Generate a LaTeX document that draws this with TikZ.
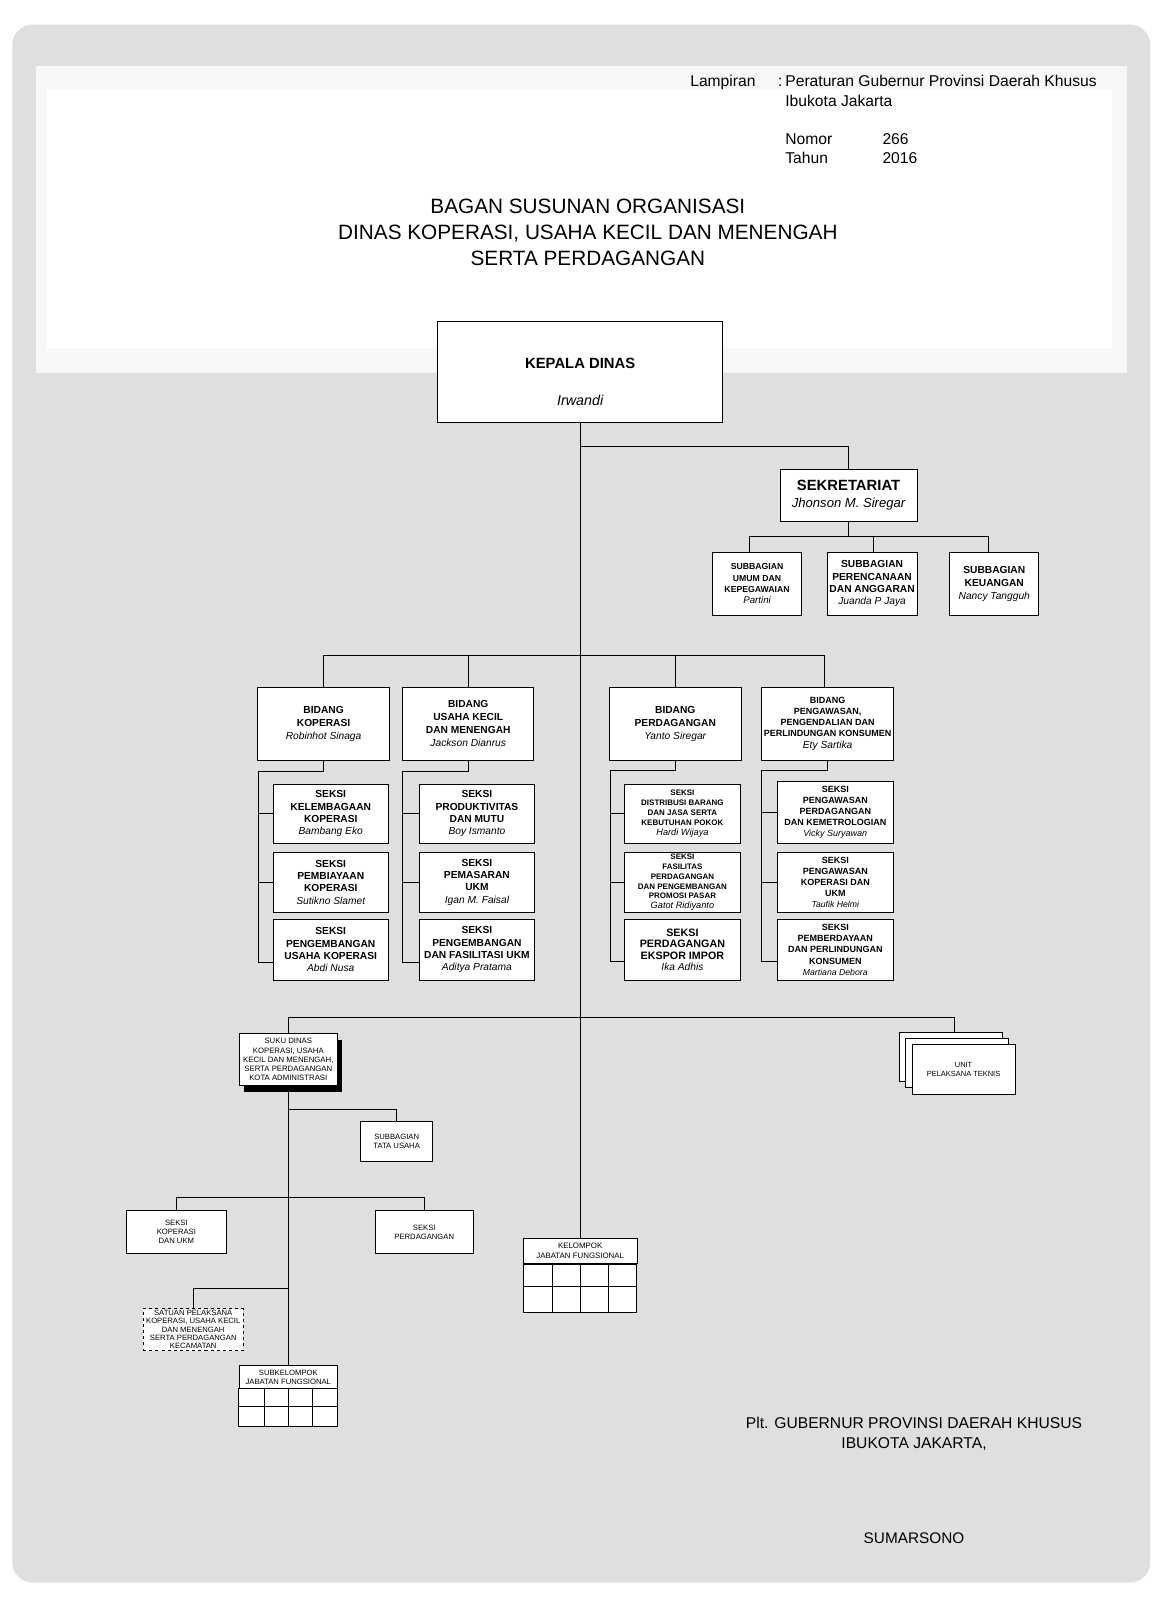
\documentclass[tikz,border=0pt]{standalone}
\usepackage{fontspec}
\setmainfont{Liberation Sans}
\definecolor{bg}{RGB}{223,223,223}
\definecolor{panel}{RGB}{247,247,247}
\newcommand{\fsz}[2]{\fontsize{#1}{#2}\selectfont}
\newcommand{\nm}[1]{{\mdseries\itshape #1}}
\begin{document}
\begin{tikzpicture}[x=1pt,y=-1pt,
  box/.style={draw, line width=0.8pt, fill=white, align=center, inner sep=0pt},
  sbox/.style={box, font=\fsz{7.5}{9}},
  con/.style={line width=0.8pt},
  hdr/.style={anchor=base west, inner sep=0pt, font=\fsz{15.3}{18}}]
\useasboundingbox (0,0) rectangle (1135,1565);
\fill[white] (0,0) rectangle (1135,1565);
\fill[bg, rounded corners=20pt] (12,24) rectangle (1125,1548);
\fill[panel] (35,65) rectangle (1102,365);
\fill[white] (46,87) rectangle (1088,340);

% header
\node[hdr] (lamp) at (675,85) {Lampiran};
\node[hdr] (colon) at (761,85) {:};
\node[hdr] (per) at (768,85) {Peraturan Gubernur Provinsi Daerah Khusus};
\node[hdr] (ibu) at (768,104) {Ibukota Jakarta};
\node[hdr] (nomor) at (768,141) {Nomor};
\node[hdr] (nomorv) at (863,141) {266};
\node[hdr] (tahun) at (768,160) {Tahun};
\node[hdr] (tahunv) at (863,160) {2016};
\node[align=center, inner sep=0pt, font=\fsz{20.3}{25.5}] (title) at (575,227)
  {BAGAN SUSUNAN ORGANISASI\\DINAS KOPERASI, USAHA KECIL DAN MENENGAH\\SERTA PERDAGANGAN};

% top
\node[box, minimum width=279, minimum height=99] (kepala) at (567.5,363.5) {};
\node[align=center, inner sep=0pt, font=\fsz{14.5}{17}\bfseries] (kepalaT) at (567.5,373.5) {KEPALA DINAS\\[20pt]\nm{\fsz{14}{17}Irwandi}};

\node[box, minimum width=134, minimum height=51, font=\fsz{14.5}{17}\bfseries] (sekr) at (830,484.5)
  {SEKRETARIAT\\\nm{\fsz{12.8}{17}Jhonson M. Siregar}};
\node[box, minimum width=87, minimum height=62, font=\fsz{8.5}{11}\bfseries] (sub1) at (740.5,571)
  {SUBBAGIAN\\UMUM DAN\\KEPEGAWAIAN\\\nm{\fsz{9.5}{11}Partini}};
\node[box, minimum width=88, minimum height=62, font=\fsz{10}{12}\bfseries] (sub2) at (853,571)
  {SUBBAGIAN\\PERENCANAAN\\DAN ANGGARAN\\\nm{Juanda P Jaya}};
\node[box, minimum width=87, minimum height=62, font=\fsz{10}{12.5}\bfseries] (sub3) at (972.5,571)
  {SUBBAGIAN\\KEUANGAN\\\nm{Nancy Tangguh}};

% bidang
\node[box, minimum width=129, minimum height=72, font=\fsz{10}{12.5}\bfseries] (bid1) at (316.5,708)
  {BIDANG\\KOPERASI\\\nm{Robinhot Sinaga}};
\node[box, minimum width=128, minimum height=72, font=\fsz{10}{12.8}\bfseries] (bid2) at (458,708)
  {BIDANG\\USAHA KECIL\\DAN MENENGAH\\\nm{Jackson Dianrus}};
\node[box, minimum width=129, minimum height=72, font=\fsz{10}{12.5}\bfseries] (bid3) at (660.5,708)
  {BIDANG\\PERDAGANGAN\\\nm{Yanto Siregar}};
\node[box, minimum width=129, minimum height=72, font=\fsz{8.8}{10.8}\bfseries] (bid4) at (809.5,708)
  {BIDANG\\PENGAWASAN,\\PENGENDALIAN DAN\\PERLINDUNGAN KONSUMEN\\\nm{\fsz{10}{10.8}Ety Sartika}};

% seksi column 1
\tikzset{sk/.style={box, minimum width=113, font=\fsz{10}{12}\bfseries}}
\node[sk, minimum height=58] (s11) at (323.5,796) {SEKSI\\KELEMBAGAAN\\KOPERASI\\\nm{Bambang Eko}};
\node[sk, minimum height=58] (s12) at (323.5,863) {SEKSI\\PEMBIAYAAN\\KOPERASI\\\nm{Sutikno Slamet}};
\node[sk, minimum height=60] (s13) at (323.5,929) {SEKSI\\PENGEMBANGAN\\USAHA KOPERASI\\\nm{Abdi Nusa}};
% column 2
\node[sk, minimum height=58] (s21) at (466.5,796) {SEKSI\\PRODUKTIVITAS\\DAN MUTU\\\nm{Boy Ismanto}};
\node[sk, minimum height=58] (s22) at (466.5,863) {SEKSI\\PEMASARAN\\UKM\\\nm{Igan M. Faisal}};
\node[sk, minimum height=60] (s23) at (466.5,929) {SEKSI\\PENGEMBANGAN\\DAN FASILITASI UKM\\\nm{Aditya Pratama}};
% column 3
\node[sk, minimum height=58, font=\fsz{7.8}{9.7}\bfseries] (s31) at (667.5,796)
  {SEKSI\\DISTRIBUSI BARANG\\DAN JASA SERTA\\KEBUTUHAN POKOK\\\nm{\fsz{9}{9.7}Hardi Wijaya}};
\node[sk, minimum height=58, font=\fsz{7.8}{9.6}\bfseries] (s32) at (667.5,863)
  {SEKSI\\FASILITAS\\PERDAGANGAN\\DAN PENGEMBANGAN\\PROMOSI PASAR\\\nm{\fsz{9}{9.6}Gatot Ridiyanto}};
\node[sk, minimum height=60, font=\fsz{10.5}{11.3}\bfseries] (s33) at (667.5,929)
  {SEKSI\\PERDAGANGAN\\EKSPOR IMPOR\\\nm{\fsz{10}{11.3}Ika Adhis}};
% column 4
\tikzset{sk4/.style={box, minimum width=114, font=\fsz{8.8}{10.6}\bfseries}}
\node[sk4, minimum height=61] (s41) at (817,794.5)
  {SEKSI\\PENGAWASAN\\PERDAGANGAN\\DAN KEMETROLOGIAN\\\nm{Vicky Suryawan}};
\node[sk4, minimum height=58] (s42) at (817,863)
  {SEKSI\\PENGAWASAN\\KOPERASI DAN\\UKM\\\nm{\fsz{8.5}{10.6}Taufik Helmi}};
\node[sk4, minimum height=60, font=\fsz{8.8}{11}\bfseries] (s43) at (817,929)
  {SEKSI\\PEMBERDAYAAN\\DAN PERLINDUNGAN\\KONSUMEN\\\nm{\fsz{8.5}{11}Martiana Debora}};

% lower section
\fill[black] (239,1017) rectangle (335,1068);
\node[sbox, minimum width=96, minimum height=51, font=\fsz{7.6}{9}] (suku) at (282,1036.5)
  {SUKU DINAS\\KOPERASI, USAHA\\KECIL DAN MENENGAH,\\SERTA PERDAGANGAN\\KOTA ADMINISTRASI};
\node[box, minimum width=100, minimum height=48] (upt1) at (930,1034) {};
\node[box, minimum width=100, minimum height=48] (upt2) at (936,1040) {};
\node[sbox, minimum width=101, minimum height=48, font=\fsz{7.3}{9}] (upt3) at (942.5,1046) {UNIT\\PELAKSANA TEKNIS};
\node[sbox, minimum width=70, minimum height=39] (tu) at (388,1116.5) {SUBBAGIAN\\TATA USAHA};
\node[sbox, minimum width=97, minimum height=42] (sk1) at (172.5,1205) {SEKSI\\KOPERASI\\DAN UKM};
\node[sbox, minimum width=96, minimum height=42] (sk2) at (415,1205) {SEKSI\\PERDAGANGAN};
\node[sbox, minimum width=98, minimum height=41, dashed, font=\fsz{7.5}{8.1}] (satuan) at (189,1300.5)
  {SATUAN PELAKSANA\\KOPERASI, USAHA KECIL\\DAN MENENGAH\\SERTA PERDAGANGAN\\KECAMATAN};
\node[sbox, minimum width=96, minimum height=22] (subkel) at (282,1347) {SUBKELOMPOK\\JABATAN FUNGSIONAL};
\node[sbox, minimum width=111, minimum height=25, font=\fsz{7.7}{9}] (kelompok) at (567.5,1223.5) {KELOMPOK\\JABATAN FUNGSIONAL};

% grids
\draw[con, fill=white] (subkel.south west) rectangle ++(96,37);
\draw[con] (234,1376) -- (330,1376);
\foreach \xx in {259,282,306} \draw[con] (\xx,1358) -- (\xx,1395);
\draw[con, fill=white] (kelompok.south west) rectangle ++(111,47);
\draw[con] (512,1258) -- (623,1258);
\foreach \xx in {540,567.5,595} \draw[con] (\xx,1236) -- (\xx,1283);

% connectors
\coordinate (hs) at (0,437);
\coordinate (hsub) at (0,525);
\coordinate (hb) at (0,641);
\coordinate (hl) at (0,995);
\coordinate (htu) at (0,1085);
\coordinate (hsk) at (0,1171);
\coordinate (hsat) at (0,1260);
\draw[con] (kepala.south) -- (kepala.south |- kelompok.north);
\draw[con] (kepala.south |- hs) -| (sekr.north);
\draw[con] (sekr.south) -- (sekr.south |- hsub);
\draw[con] (733,525) -- (967,525);
\draw[con] (733,525) -- (733,540);
\draw[con] (854,525) -- (854,540);
\draw[con] (967,525) -- (967,540);
\draw[con] (bid1.north |- hb) -- (806,641);
\draw[con] (bid1.north) -- (bid1.north |- hb);
\draw[con] (bid2.north) -- (bid2.north |- hb);
\draw[con] (bid3.north) -- (bid3.north |- hb);
\draw[con] (806,641) -- (806,672);
% brackets
\coordinate (c1) at (253,755);
\coordinate (c2) at (394,755);
\coordinate (c3) at (597,754);
\coordinate (c4) at (745,754);
\draw[con] (bid1.south) |- (c1) -- (253,941) -- (s13.west |- 0,941);
\draw[con] (c1 |- s11.west) -- (s11.west);
\draw[con] (c1 |- s12.west) -- (s12.west);
\draw[con] (bid2.south) |- (c2) -- (394,941) -- (s23.west |- 0,941);
\draw[con] (c2 |- s21.west) -- (s21.west);
\draw[con] (c2 |- s22.west) -- (s22.west);
\draw[con] (bid3.south) |- (c3) -- (597,940) -- (s33.west |- 0,940);
\draw[con] (c3 |- s31.west) -- (s31.west);
\draw[con] (c3 |- s32.west) -- (s32.west);
\draw[con] (bid4.south) |- (c4) -- (745,940) -- (s43.west |- 0,940);
\draw[con] (c4 |- 0,795) -- (s41.west |- 0,795);
\draw[con] (c4 |- s42.west) -- (s42.west);
% lower
\draw[con] (suku.north |- hl) -- (934,995) -- (934,1010);
\draw[con] (suku.north |- hl) -- (suku.north);
\draw[con] (suku.south) -- (subkel.north);
\draw[con] (suku.south |- htu) -| (tu.north);
\draw[con] (sk1.north) |- (sk2.north |- hsk) -- (sk2.north);
\draw[con] (suku.south |- hsat) -| (satuan.north);

% signature
\node[align=center, inner sep=0pt, font=\fsz{15.3}{19.5}] (gub) at (894,1402)
  {Plt. GUBERNUR PROVINSI DAERAH KHUSUS\\IBUKOTA JAKARTA,};
\node[inner sep=0pt, font=\fsz{15}{18}] (sum) at (894,1505) {SUMARSONO};
\end{tikzpicture}
\end{document}
